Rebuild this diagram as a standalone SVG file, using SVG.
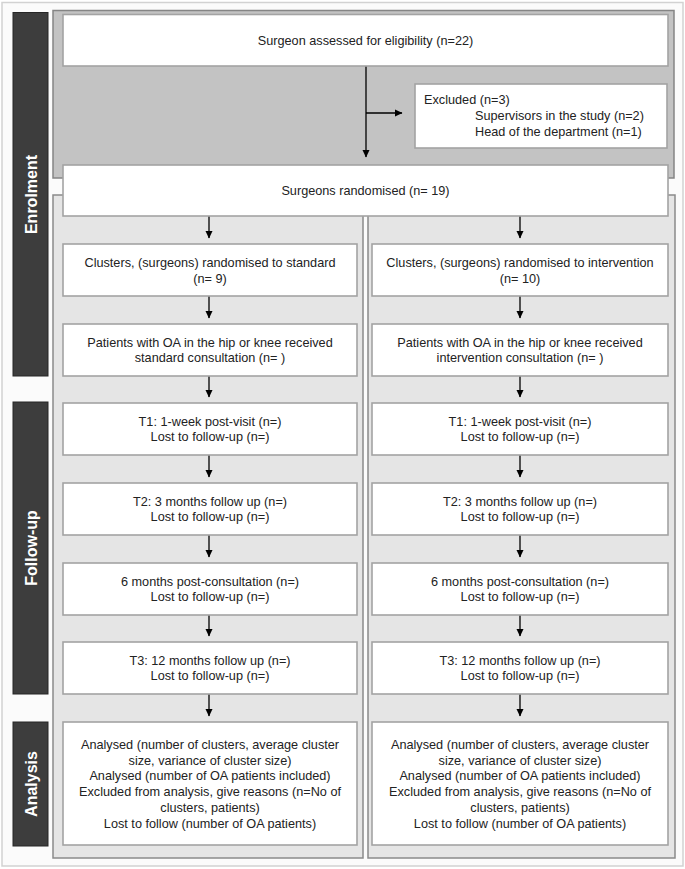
<svg xmlns="http://www.w3.org/2000/svg" width="685" height="869" viewBox="0 0 685 869">
<defs>
<marker id="ah" markerWidth="8" markerHeight="8" refX="7" refY="4" orient="auto" markerUnits="userSpaceOnUse">
<path d="M0,0.5 L7.5,4 L0,7.5 Z" fill="#000"/>
</marker>
<style>
.frame{fill:#fbfbfb;stroke:#d2d2d2;stroke-width:1.5}
.side{fill:#3d3d3d;stroke:#262626;stroke-width:1}
.sidet{font-family:"Liberation Sans",Arial,sans-serif;font-weight:bold;font-size:16px;fill:#fff;text-anchor:middle}
.penr{fill:#c3c3c3;stroke:#858585;stroke-width:1.5}
.pcol{fill:#e5e5e5;stroke:#8a8a8a;stroke-width:1.5}
.box{fill:#fff;stroke:#a3a3a3;stroke-width:1.6}
.t{font-family:"Liberation Sans",Arial,sans-serif;font-size:12.7px;fill:#222;text-anchor:middle}
.tl{font-family:"Liberation Sans",Arial,sans-serif;font-size:12.7px;fill:#222}
.c{stroke:#000;stroke-width:1.3;fill:none;marker-end:url(#ah)}
</style>
</defs>
<rect class="frame" x="2" y="2.5" width="681" height="863.5"/>

<g id="sidebars">
<g id="side-enrolment"><rect class="side" x="13" y="12.5" width="35" height="363.5"/><text class="sidet" transform="translate(36.5,194.5) rotate(-90)">Enrolment</text></g>
<g id="side-followup"><rect class="side" x="13" y="402" width="35" height="292"/><text class="sidet" transform="translate(36.5,548) rotate(-90)">Follow-up</text></g>
<g id="side-analysis"><rect class="side" x="13" y="722" width="35" height="124"/><text class="sidet" transform="translate(36.5,784) rotate(-90)">Analysis</text></g>
</g>

<g id="panels">
<rect class="penr" x="53" y="10.5" width="621" height="167.5"/>
<rect class="pcol" x="53" y="195" width="310" height="663"/>
<rect class="pcol" x="368" y="195" width="307" height="663"/>
</g>

<g id="connectors">
<line class="c" x1="366" y1="66" x2="366" y2="157"/>
<line class="c" x1="366" y1="113" x2="402" y2="113"/>
<line class="c" x1="209" y1="216" x2="209" y2="238"/>
<line class="c" x1="520" y1="216" x2="520" y2="238"/>
<line class="c" x1="209" y1="296" x2="209" y2="318"/>
<line class="c" x1="520" y1="296" x2="520" y2="318"/>
<line class="c" x1="209" y1="376" x2="209" y2="397"/>
<line class="c" x1="520" y1="376" x2="520" y2="397"/>
<line class="c" x1="209" y1="455" x2="209" y2="477"/>
<line class="c" x1="520" y1="455" x2="520" y2="477"/>
<line class="c" x1="209" y1="535" x2="209" y2="557"/>
<line class="c" x1="520" y1="535" x2="520" y2="557"/>
<line class="c" x1="209" y1="615" x2="209" y2="636"/>
<line class="c" x1="520" y1="615" x2="520" y2="636"/>
<line class="c" x1="209" y1="694" x2="209" y2="716"/>
<line class="c" x1="520" y1="694" x2="520" y2="716"/>
</g>

<g id="n-assessed"><rect class="box" x="63" y="14.5" width="605" height="51.5"/><text class="t" x="365.5" y="45">Surgeon assessed for eligibility (n=22)</text></g>
<g id="n-excluded"><rect class="box" x="415" y="84" width="252" height="64"/>
<text class="tl" x="424" y="104">Excluded (n=3)</text>
<text class="tl" x="475" y="120">Supervisors in the study (n=2)</text>
<text class="tl" x="475" y="135.5">Head of the department (n=1)</text></g>
<g id="n-randomised"><rect class="box" x="63" y="165" width="605" height="51"/><text class="t" x="365.5" y="195">Surgeons randomised (n= 19)</text></g>

<g id="n-clusters-std"><rect class="box" x="63" y="244" width="294" height="52"/><text class="t" x="210" y="266.5">Clusters, (surgeons) randomised to standard</text><text class="t" x="210" y="282.5">(n= 9)</text></g>
<g id="n-clusters-int"><rect class="box" x="372" y="244" width="296" height="52"/><text class="t" x="520" y="266.5">Clusters, (surgeons) randomised to intervention</text><text class="t" x="520" y="282.5">(n= 10)</text></g>

<g id="n-patients-std"><rect class="box" x="63" y="324" width="294" height="52"/><text class="t" x="210" y="346.5">Patients with OA in the hip or knee received</text><text class="t" x="210" y="362">standard consultation (n= )</text></g>
<g id="n-patients-int"><rect class="box" x="372" y="324" width="296" height="52"/><text class="t" x="520" y="346.5">Patients with OA in the hip or knee received</text><text class="t" x="520" y="362">intervention consultation (n= )</text></g>

<g id="n-t1-std"><rect class="box" x="63" y="403" width="294" height="52"/><text class="t" x="210" y="425.5">T1: 1-week post-visit (n=)</text><text class="t" x="210" y="441">Lost to follow-up (n=)</text></g>
<g id="n-t1-int"><rect class="box" x="372" y="403" width="296" height="52"/><text class="t" x="520" y="425.5">T1: 1-week post-visit (n=)</text><text class="t" x="520" y="441">Lost to follow-up (n=)</text></g>

<g id="n-t2-std"><rect class="box" x="63" y="483" width="294" height="52"/><text class="t" x="210" y="505.5">T2: 3 months follow up (n=)</text><text class="t" x="210" y="521">Lost to follow-up (n=)</text></g>
<g id="n-t2-int"><rect class="box" x="372" y="483" width="296" height="52"/><text class="t" x="520" y="505.5">T2: 3 months follow up (n=)</text><text class="t" x="520" y="521">Lost to follow-up (n=)</text></g>

<g id="n-6m-std"><rect class="box" x="63" y="563" width="294" height="52"/><text class="t" x="210" y="585.5">6 months post-consultation (n=)</text><text class="t" x="210" y="601">Lost to follow-up (n=)</text></g>
<g id="n-6m-int"><rect class="box" x="372" y="563" width="296" height="52"/><text class="t" x="520" y="585.5">6 months post-consultation (n=)</text><text class="t" x="520" y="601">Lost to follow-up (n=)</text></g>

<g id="n-t3-std"><rect class="box" x="63" y="642" width="294" height="52"/><text class="t" x="210" y="664.5">T3: 12 months follow up (n=)</text><text class="t" x="210" y="680">Lost to follow-up (n=)</text></g>
<g id="n-t3-int"><rect class="box" x="372" y="642" width="296" height="52"/><text class="t" x="520" y="664.5">T3: 12 months follow up (n=)</text><text class="t" x="520" y="680">Lost to follow-up (n=)</text></g>

<g id="n-analysis-std"><rect class="box" x="63" y="722" width="294" height="123"/>
<text class="t" x="210" y="748.5">Analysed (number of clusters, average cluster</text>
<text class="t" x="210" y="764.5">size, variance of cluster size)</text>
<text class="t" x="210" y="780">Analysed (number of OA patients included)</text>
<text class="t" x="210" y="795.5">Excluded from analysis, give reasons (n=No of</text>
<text class="t" x="210" y="811.5">clusters, patients)</text>
<text class="t" x="210" y="827.5">Lost to follow (number of OA patients)</text></g>
<g id="n-analysis-int"><rect class="box" x="372" y="722" width="296" height="123"/>
<text class="t" x="520" y="748.5">Analysed (number of clusters, average cluster</text>
<text class="t" x="520" y="764.5">size, variance of cluster size)</text>
<text class="t" x="520" y="780">Analysed (number of OA patients included)</text>
<text class="t" x="520" y="795.5">Excluded from analysis, give reasons (n=No of</text>
<text class="t" x="520" y="811.5">clusters, patients)</text>
<text class="t" x="520" y="827.5">Lost to follow (number of OA patients)</text></g>
</svg>
